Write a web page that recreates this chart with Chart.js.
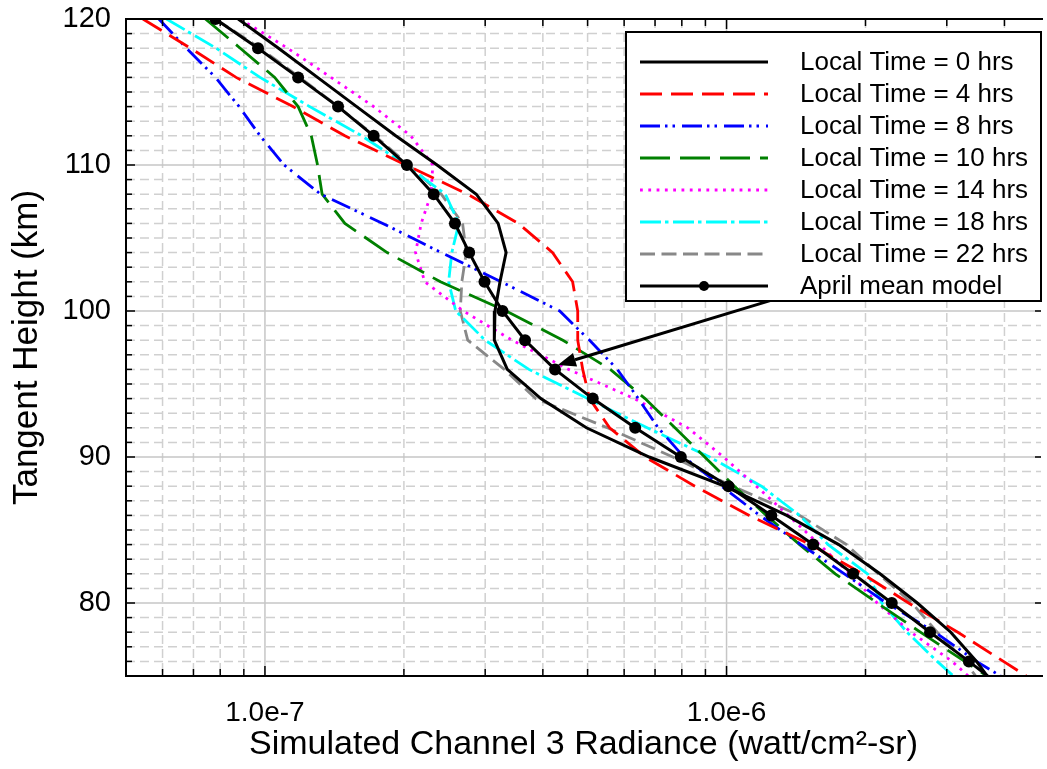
<!DOCTYPE html>
<html>
<head>
<meta charset="utf-8">
<script src="https://cdn.jsdelivr.net/npm/chart.js@4.4.1/dist/chart.umd.min.js"></script>
<style>
  html, body { margin: 0; padding: 0; background: #fff; }
  #wrap { width: 1047px; height: 769px; }
</style>
</head>
<body>
<div id="wrap"><canvas id="chart" width="1047" height="769"></canvas></div>
<script>
// Tangent heights (km), shared by every radiance profile
const heights = [120, 118, 116, 114, 112, 110, 108, 106, 104, 102, 100, 98,
                 96, 94, 92, 90, 88, 86, 84, 82, 80, 78, 76, 74];

// Simulated channel 3 radiance (watt/cm2-sr) per local time
const radianceLT0 = [8.75e-8, 1.07e-7, 1.30e-7, 1.58e-7, 1.92e-7, 2.36e-7, 2.87e-7, 3.20e-7, 3.33e-7, 3.23e-7, 3.15e-7, 3.14e-7,
                     3.35e-7, 3.96e-7, 4.97e-7, 6.80e-7, 9.90e-7, 1.35e-6, 1.75e-6, 2.15e-6, 2.59e-6, 3.06e-6, 3.48e-6, 3.87e-6];
const radianceLT4 = [5.44e-8, 6.90e-8, 8.66e-8, 1.15e-7, 1.49e-7, 2.02e-7, 2.75e-7, 3.54e-7, 4.20e-7, 4.64e-7, 4.76e-7, 4.76e-7,
                     4.88e-7, 5.05e-7, 5.58e-7, 6.66e-7, 8.54e-7, 1.12e-6, 1.52e-6, 1.97e-6, 2.48e-6, 3.17e-6, 3.98e-6, 5.00e-6];
const radianceLT8 = [5.89e-8, 6.76e-8, 7.81e-8, 8.79e-8, 9.76e-8, 1.10e-7, 1.32e-7, 1.80e-7, 2.41e-7, 3.25e-7, 4.35e-7, 5.05e-7,
                     5.80e-7, 6.44e-7, 7.11e-7, 8.08e-7, 9.76e-7, 1.18e-6, 1.45e-6, 1.80e-6, 2.22e-6, 2.83e-6, 3.48e-6, 4.42e-6];
const radianceLT10 = [7.43e-8, 8.84e-8, 1.05e-7, 1.18e-7, 1.26e-7, 1.30e-7, 1.33e-7, 1.49e-7, 1.84e-7, 2.40e-7, 3.33e-7, 4.42e-7,
                      5.60e-7, 6.66e-7, 7.73e-7, 8.97e-7, 1.04e-6, 1.22e-6, 1.44e-6, 1.72e-6, 2.12e-6, 2.63e-6, 3.28e-6, 4.10e-6];
const radianceLT14 = [8.84e-8, 1.12e-7, 1.39e-7, 1.72e-7, 2.07e-7, 2.31e-7, 2.29e-7, 2.18e-7, 2.12e-7, 2.22e-7, 2.69e-7, 3.43e-7,
                      4.55e-7, 6.31e-7, 8.24e-7, 9.85e-7, 1.16e-6, 1.36e-6, 1.59e-6, 1.85e-6, 2.12e-6, 2.51e-6, 3.08e-6, 3.62e-6];
const radianceLT18 = [6.12e-8, 7.84e-8, 9.76e-8, 1.25e-7, 1.62e-7, 2.02e-7, 2.46e-7, 2.63e-7, 2.54e-7, 2.50e-7, 2.59e-7, 3.00e-7,
                      3.73e-7, 5.00e-7, 6.73e-7, 9.19e-7, 1.19e-6, 1.44e-6, 1.66e-6, 2.02e-6, 2.17e-6, 2.46e-6, 2.86e-6, 3.36e-6];
const radianceLT22 = [7.81e-8, 9.76e-8, 1.19e-7, 1.44e-7, 1.73e-7, 2.05e-7, 2.41e-7, 2.68e-7, 2.73e-7, 2.67e-7, 2.65e-7, 2.75e-7,
                      3.30e-7, 3.86e-7, 5.52e-7, 7.65e-7, 1.03e-6, 1.44e-6, 1.82e-6, 2.13e-6, 2.52e-6, 2.86e-6, 3.28e-6, 3.66e-6];
const radianceMean = [7.81e-8, 9.66e-8, 1.18e-7, 1.44e-7, 1.72e-7, 2.03e-7, 2.32e-7, 2.58e-7, 2.77e-7, 2.99e-7, 3.27e-7, 3.66e-7,
                      4.25e-7, 5.13e-7, 6.34e-7, 7.96e-7, 1.01e-6, 1.25e-6, 1.54e-6, 1.88e-6, 2.28e-6, 2.76e-6, 3.35e-6, 4.04e-6];

const seriesLabels = ['Local Time = 0 hrs', 'Local Time = 4 hrs', 'Local Time = 8 hrs', 'Local Time = 10 hrs',
                      'Local Time = 14 hrs', 'Local Time = 18 hrs', 'Local Time = 22 hrs', 'April mean model'];
const seriesValues = [radianceLT0, radianceLT4, radianceLT8, radianceLT10,
                      radianceLT14, radianceLT18, radianceLT22, radianceMean];
const seriesColors = ['#000000', '#ff0000', '#0000ff', '#008000', '#ff00ff', '#00ffff', '#888888', '#000000'];
const seriesDashes = [[], [22, 9], [20, 5, 2.5, 5, 2.5, 7], [30, 10], [2.8, 5.5], [21, 4, 3.5, 4.5], [15, 6.5], []];

// axis ticks
const xTickValues = [1e-7, 1e-6];
const yTickValues = [80, 90, 100, 110, 120];
const xRange = [5e-8, 4.8e-6];
const yRange = [75, 120];

// arrow pointing at the mean model (value, height)
const arrowFrom = { x: 1.30e-6, y: 100.9 };
const arrowTo = { x: 4.31e-7, y: 96.3 };

const FONT = '"Liberation Sans", Arial, Helvetica, sans-serif';

const isDecade = v => Math.abs(Math.log10(v) - Math.round(Math.log10(v))) < 1e-9;

function xGridValues() {
  const out = [];
  for (let e = -8; e <= -6; e++) {
    for (let m = 1; m <= 9; m++) {
      const v = m * Math.pow(10, e);
      if (v > xRange[0] * 1.0001 && v < xRange[1]) out.push(v);
    }
  }
  return out;
}

function seg(ctx, x1, y1, x2, y2) {
  ctx.beginPath(); ctx.moveTo(x1, y1); ctx.lineTo(x2, y2); ctx.stroke();
}

// grid, frame and inward ticks
const framePlugin = {
  id: 'frame',
  beforeDatasetsDraw(chart) {
    const { ctx, chartArea: a, scales: { x, y } } = chart;
    ctx.save();
    ctx.lineWidth = 1.5;
    xGridValues().forEach(v => {
      const px = x.getPixelForValue(v);
      const major = isDecade(v);
      ctx.strokeStyle = major ? '#c6c6c6' : '#d0d0d0';
      ctx.setLineDash(major ? [] : [9, 5]);
      seg(ctx, px, a.top, px, a.bottom);
    });
    for (let h = yRange[0] + 1; h < yRange[1]; h++) {
      const py = y.getPixelForValue(h);
      const major = h % 10 === 0;
      ctx.strokeStyle = major ? '#c6c6c6' : '#d0d0d0';
      ctx.setLineDash(major ? [] : [9, 5]);
      seg(ctx, a.left, py, a.right, py);
    }
    ctx.restore();
  },
  afterDatasetsDraw(chart) {
    const { ctx, chartArea: a, scales: { x, y } } = chart;
    ctx.save();
    ctx.strokeStyle = '#000';
    ctx.setLineDash([]);
    ctx.lineWidth = 1.5;
    xGridValues().forEach(v => {
      const px = x.getPixelForValue(v);
      const len = isDecade(v) ? 10 : 7;
      seg(ctx, px, a.bottom, px, a.bottom - len);
      seg(ctx, px, a.top, px, a.top + len);
    });
    for (let h = yRange[0] + 1; h < yRange[1]; h++) {
      const py = y.getPixelForValue(h);
      const len = h % 10 === 0 ? 9 : 6;
      seg(ctx, a.left, py, a.left + len, py);
      if (h % 10 === 0) seg(ctx, a.right, py, a.right - 6, py);
    }
    ctx.lineWidth = 2;
    ctx.beginPath();
    ctx.moveTo(a.right + 2, a.top);
    ctx.lineTo(a.left, a.top);
    ctx.lineTo(a.left, a.bottom);
    ctx.lineTo(a.right + 2, a.bottom);
    ctx.stroke();
    ctx.restore();
  }
};

// line-style legend box and the annotation arrow
const legendPlugin = {
  id: 'lineLegend',
  afterDraw(chart) {
    const { ctx, scales: { x, y } } = chart;
    ctx.save();
    // arrow
    const x1 = x.getPixelForValue(arrowFrom.x), y1 = y.getPixelForValue(arrowFrom.y);
    const x2 = x.getPixelForValue(arrowTo.x), y2 = y.getPixelForValue(arrowTo.y);
    const ang = Math.atan2(y2 - y1, x2 - x1);
    const headLen = 18, headW = 7;
    const bx = x2 - headLen * Math.cos(ang), by = y2 - headLen * Math.sin(ang);
    ctx.strokeStyle = '#000';
    ctx.lineWidth = 3;
    seg(ctx, x1, y1, bx, by);
    ctx.fillStyle = '#000';
    ctx.beginPath();
    ctx.moveTo(x2, y2);
    ctx.lineTo(bx + headW * Math.sin(ang), by - headW * Math.cos(ang));
    ctx.lineTo(bx - headW * Math.sin(ang), by + headW * Math.cos(ang));
    ctx.closePath();
    ctx.fill();

    // legend box
    const box = { left: 626, top: 32, width: 415, height: 269 };
    ctx.fillStyle = '#fff';
    ctx.fillRect(box.left, box.top, box.width, box.height);
    ctx.lineWidth = 2;
    ctx.strokeRect(box.left, box.top, box.width, box.height);
    chart.data.datasets.forEach((ds, i) => {
      const ry = box.top + 30 + i * 32;
      ctx.strokeStyle = ds.borderColor;
      ctx.lineWidth = ds.borderWidth;
      ctx.setLineDash(ds.borderDash);
      ctx.lineCap = 'butt';
      seg(ctx, 640, ry, 768, ry);
      ctx.setLineDash([]);
      if (ds.pointRadius > 0) {
        ctx.fillStyle = ds.pointBackgroundColor;
        ctx.beginPath(); ctx.arc(704, ry, ds.pointRadius - 1, 0, Math.PI * 2); ctx.fill();
      }
      ctx.fillStyle = '#000';
      ctx.font = '26px ' + FONT;
      ctx.textBaseline = 'middle';
      ctx.textAlign = 'left';
      ctx.fillText(ds.label, 800, ry + 1);
    });
    ctx.restore();
  }
};

const datasets = seriesLabels.map((label, i) => {
  const isMean = i === seriesLabels.length - 1;
  return {
    label,
    data: heights.map((h, k) => ({ x: seriesValues[i][k], y: h })),
    borderColor: seriesColors[i],
    backgroundColor: seriesColors[i],
    borderWidth: isMean || i === 0 ? 3 : 2.8,
    borderDash: seriesDashes[i],
    borderCapStyle: 'butt',
    pointRadius: isMean ? 6 : 0,
    pointBackgroundColor: '#000',
    pointBorderWidth: 0,
    showLine: true,
    fill: false,
    tension: 0,
    order: isMean ? 0 : i + 1
  };
});

new Chart(document.getElementById('chart'), {
  type: 'line',
  data: { datasets },
  plugins: [framePlugin, legendPlugin],
  options: {
    responsive: false,
    animation: false,
    devicePixelRatio: 1,
    layout: { padding: { top: 19, right: 0, bottom: 0, left: 0 } },
    plugins: { legend: { display: false }, tooltip: { enabled: false } },
    scales: {
      x: {
        type: 'logarithmic',
        min: xRange[0],
        max: xRange[1],
        grid: { display: false },
        border: { display: false },
        afterBuildTicks: s => { s.ticks = xTickValues.map(v => ({ value: v, major: true })); },
        afterFit: s => { s.height = 93; s.paddingLeft = 0; s.paddingRight = 0; },
        ticks: {
          autoSkip: false,
          maxRotation: 0,
          padding: 12,
          color: '#000',
          font: { family: FONT, size: 28 },
          callback: v => Number(v).toExponential(1)
        },
        title: {
          display: true,
          text: 'Simulated Channel 3 Radiance (watt/cm²-sr)',
          color: '#000',
          font: { family: FONT, size: 34 },
          padding: { top: 0, bottom: 4 }
        }
      },
      y: {
        type: 'linear',
        min: yRange[0],
        max: yRange[1],
        grid: { display: false },
        border: { display: false },
        afterBuildTicks: s => { s.ticks = yTickValues.map(v => ({ value: v })); },
        afterFit: s => { s.width = 126; s.paddingTop = 0; s.paddingBottom = 0; },
        ticks: {
          padding: 7,
          color: '#000',
          font: { family: FONT, size: 29 }
        },
        title: {
          display: true,
          text: 'Tangent Height (km)',
          color: '#000',
          font: { family: FONT, size: 35 },
          padding: { top: 6, bottom: 0 }
        }
      }
    }
  }
});
</script>
</body>
</html>
